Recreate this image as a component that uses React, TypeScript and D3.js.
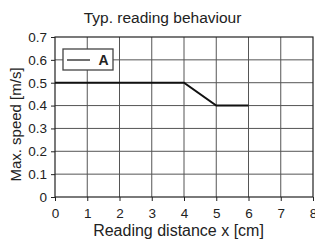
import React, { useRef, useEffect } from 'react';
import * as d3 from 'd3';

// series A
const distances = [0, 4, 5, 6];
const speeds = [0.5, 0.5, 0.4, 0.4];
const xTicks = [0, 1, 2, 3, 4, 5, 6, 7, 8];
const yTicks = [0, 0.1, 0.2, 0.3, 0.4, 0.5, 0.6, 0.7];

export default function App() {
  const ref = useRef<SVGSVGElement>(null);
  const width = 315, height = 241;
  const m = { left: 55, right: 2, top: 37, bottom: 44 };

  useEffect(() => {
    if (!ref.current) return;
    const svg = d3.select(ref.current);
    svg.selectAll('*').remove();

    const x = d3.scaleLinear().domain([0, 8]).range([m.left, width - m.right]);
    const y = d3.scaleLinear().domain([0, 0.7]).range([height - m.bottom, m.top]);
    const font = 'Liberation Sans, Arial, sans-serif';

    // grid
    svg.append('g').selectAll('line').data(xTicks.slice(1, -1)).join('line')
      .attr('x1', d => x(d)).attr('x2', d => x(d))
      .attr('y1', y(0)).attr('y2', y(0.7))
      .attr('stroke', '#555').attr('stroke-width', 1);
    svg.append('g').selectAll('line').data(yTicks.slice(1, -1)).join('line')
      .attr('x1', x(0)).attr('x2', x(8))
      .attr('y1', d => y(d)).attr('y2', d => y(d))
      .attr('stroke', '#555').attr('stroke-width', 1);

    // frame
    svg.append('rect')
      .attr('x', x(0)).attr('y', y(0.7))
      .attr('width', x(8) - x(0)).attr('height', y(0) - y(0.7))
      .attr('fill', 'none').attr('stroke', '#222').attr('stroke-width', 1.2);

    const xAxis = svg.append('g').attr('transform', `translate(0,${y(0)})`)
      .call(d3.axisBottom(x).tickValues(xTicks).tickSize(4).tickPadding(7).tickFormat(d3.format('d')));
    const yAxis = svg.append('g').attr('transform', `translate(${x(0)},0)`)
      .call(d3.axisLeft(y).tickValues(yTicks).tickSize(4).tickPadding(4)
        .tickFormat(d => (d === 0 ? '0' : d3.format('.1f')(d as number))));
    [xAxis, yAxis].forEach(a => {
      a.select('.domain').remove();
      a.selectAll('line').attr('stroke', '#222');
      a.selectAll('text').attr('font-family', font).attr('font-size', 13.5).attr('fill', '#222');
    });

    // series line
    const line = d3.line<number>().x((d, i) => x(distances[i])).y(d => y(d));
    svg.append('path').datum(speeds).attr('d', line)
      .attr('fill', 'none').attr('stroke', '#111').attr('stroke-width', 2);

    // legend
    const lg = svg.append('g').attr('transform', 'translate(63,49)');
    lg.append('rect').attr('width', 50).attr('height', 21)
      .attr('fill', 'white').attr('stroke', '#444').attr('stroke-width', 1.3);
    lg.append('line').attr('x1', 4).attr('x2', 27).attr('y1', 11).attr('y2', 11)
      .attr('stroke', '#222').attr('stroke-width', 1.3);
    lg.append('text').attr('x', 35.5).attr('y', 16).text('A')
      .attr('font-family', font).attr('font-size', 14).attr('font-weight', 'bold').attr('fill', '#222');

    // titles
    svg.append('text').attr('x', 162.5).attr('y', 22.5).attr('text-anchor', 'middle')
      .attr('font-family', font).attr('font-size', 15.5).attr('fill', '#222')
      .text('Typ. reading behaviour');
    svg.append('text').attr('x', 178.5).attr('y', 235.5).attr('text-anchor', 'middle')
      .attr('font-family', font).attr('font-size', 16).attr('fill', '#222')
      .text('Reading distance x [cm]');
    svg.append('text').attr('transform', `translate(21,124.5) rotate(-90)`)
      .attr('text-anchor', 'middle')
      .attr('font-family', font).attr('font-size', 15).attr('fill', '#222')
      .text('Max. speed [m/s]');
  }, []);

  return (
    <svg ref={ref} width={width} height={height}
      style={{ position: 'absolute', left: 0, top: 0, background: 'white' }} />
  );
}
